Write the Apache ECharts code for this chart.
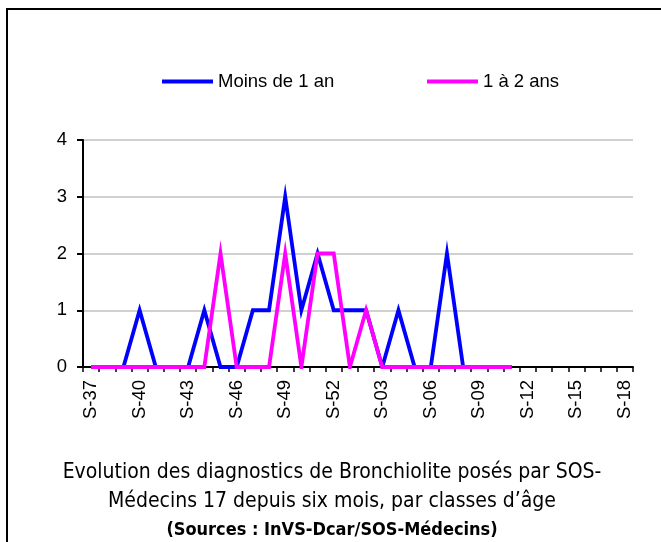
<!DOCTYPE html>
<html>
<head>
<meta charset="utf-8">
<script src="https://cdn.jsdelivr.net/npm/echarts@6/dist/echarts.min.js"></script>
<style>
  html, body { margin: 0; padding: 0; background: #fff; }
  #frame { position: absolute; left: 6px; top: 8px; width: 700px; height: 600px;
           border-top: 2px solid #000; border-left: 2px solid #000; pointer-events: none; }
  #chart { position: absolute; left: 0; top: 0; width: 661px; height: 542px; }
</style>
</head>
<body>
<div id="chart"></div>
<div id="frame"></div>
<script>
// Week categories: S-37 .. S-52, then S-01 .. S-18
const weeks = [
  'S-37','S-38','S-39','S-40','S-41','S-42','S-43','S-44','S-45','S-46','S-47','S-48',
  'S-49','S-50','S-51','S-52','S-01','S-02','S-03','S-04','S-05','S-06','S-07','S-08',
  'S-09','S-10','S-11','S-12','S-13','S-14','S-15','S-16','S-17','S-18'
];
// Moins de 1 an
const moinsDe1An = [
  0,0,0,1,0,0,0,1,0,0,1,1,
  3,1,2,1,1,1,0,1,0,0,2,0,
  0,0,0,null,null,null,null,null,null,null
];
// 1 à 2 ans
const unA2Ans = [
  0,0,0,0,0,0,0,0,2,0,0,0,
  2,0,2,2,0,1,0,0,0,0,0,0,
  0,0,0,null,null,null,null,null,null,null
];
const seriesNames = ['Moins de 1 an', '1 à 2 ans'];
const yTicks = [0, 1, 2, 3, 4];

const chart = echarts.init(document.getElementById('chart'), null, { renderer: 'canvas' });
const baseFont = '"Liberation Sans", Arial, sans-serif';
const titleFont = '"DejaVu Sans Condensed", sans-serif';
chart.setOption({
  backgroundColor: 'transparent',
  animation: false,
  title: {
    left: 332,
    top: 458,
    textAlign: 'center',
    padding: 0,
    text: 'Evolution des diagnostics de Bronchiolite posés par SOS-\nMédecins 17 depuis six mois, par classes d’âge\n{b|(Sources : InVS-Dcar/SOS-Médecins)}',
    textStyle: {
      fontFamily: titleFont,
      fontSize: 21,
      fontWeight: 'normal',
      color: '#000',
      lineHeight: 29,
      rich: {
        b: {
          fontFamily: titleFont,
          fontSize: 18,
          fontWeight: 'bold',
          color: '#000',
          lineHeight: 29
        }
      }
    }
  },
  legend: [
    {
      left: 157, top: 67,
      data: [{ name: seriesNames[0], icon: 'rect' }],
      itemWidth: 51, itemHeight: 4, itemGap: 0,
      textStyle: { fontFamily: baseFont, fontSize: 18.5, color: '#000' }
    },
    {
      left: 422, top: 67,
      data: [{ name: seriesNames[1], icon: 'rect' }],
      itemWidth: 51, itemHeight: 4, itemGap: 0,
      textStyle: { fontFamily: baseFont, fontSize: 18.5, color: '#000' }
    }
  ],
  grid: { left: 83, right: 28, top: 140, bottom: 175, containLabel: false },
  xAxis: {
    type: 'category',
    data: weeks,
    boundaryGap: true,
    axisLine: { lineStyle: { color: '#000', width: 2 } },
    axisTick: { show: true, interval: 0, length: 5, inside: false, lineStyle: { color: '#000', width: 1.5 } },
    axisLabel: {
      interval: 2, rotate: 90, margin: 13,
      fontFamily: baseFont, fontSize: 18.5, color: '#000'
    },
    splitLine: { show: false }
  },
  yAxis: {
    type: 'value',
    min: yTicks[0], max: yTicks[yTicks.length - 1], interval: 1,
    axisLine: { show: true, lineStyle: { color: '#000', width: 2 } },
    axisTick: { show: true, length: 6, lineStyle: { color: '#000', width: 2 } },
    axisLabel: { margin: 16, fontFamily: baseFont, fontSize: 18.5, color: '#000' },
    splitLine: { show: true, lineStyle: { color: '#c0c0c0', width: 1.5 } }
  },
  series: [
    {
      name: seriesNames[0], type: 'line', data: moinsDe1An,
      showSymbol: false, symbol: 'none', connectNulls: false,
      lineStyle: { color: '#0000ff', width: 3.8, join: 'miter' },
      itemStyle: { color: '#0000ff' }
    },
    {
      name: seriesNames[1], type: 'line', data: unA2Ans,
      showSymbol: false, symbol: 'none', connectNulls: false,
      lineStyle: { color: '#ff00ff', width: 3.8, join: 'miter' },
      itemStyle: { color: '#ff00ff' }
    }
  ]
});
</script>
</body>
</html>
